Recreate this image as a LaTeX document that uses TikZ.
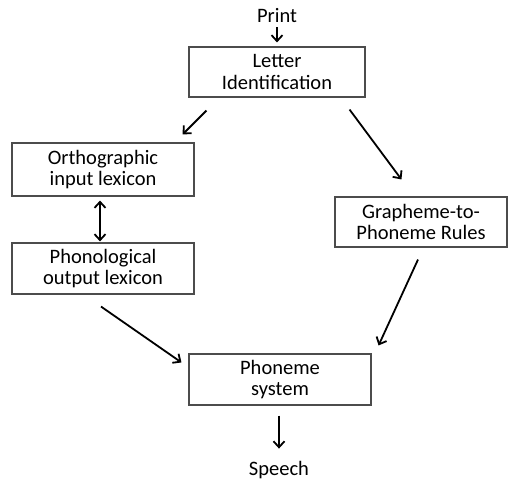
\documentclass[tikz,border=0pt]{standalone}
\usepackage{fontspec}
\setmainfont{Carlito}
\usetikzlibrary{arrows.meta,calc}
\tikzset{
  box/.style={draw=black!70, line width=1.1pt, fill=white, align=center,
    inner sep=0pt, font=\fontsize{20.5}{21.5}\selectfont},
  lbl/.style={inner sep=0pt, font=\fontsize{20.5}{21.5}\selectfont},
  tip/.style={Straight Barb[length=6pt,width=11pt,line width=1.8pt]},
  arr/.style={line width=1.8pt, -{Straight Barb[length=6pt,width=11pt,line width=1.8pt]}},
  darr/.style={line width=1.8pt, {Straight Barb[length=6pt,width=11pt,line width=1.8pt]}-{Straight Barb[length=6pt,width=11pt,line width=1.8pt]}}
}
\begin{document}
\begin{tikzpicture}[x=1pt,y=-1pt]
\useasboundingbox (0,0) rectangle (509,482);
\node[box, minimum width=176pt, minimum height=50pt] (letter) at (277,72) {Letter\\Identification};
\node[box, minimum width=182pt, minimum height=53pt] (ortho) at (103,169.5) {Orthographic\\input lexicon};
\node[box, minimum width=182pt, minimum height=51pt] (phono) at (103,268.5) {Phonological\\output lexicon};
\node[box, minimum width=172pt, minimum height=50pt] (graph) at (421,222) {Grapheme-to-\\Phoneme Rules};
\node[box, minimum width=182pt, minimum height=51pt] (phon) at (280,379.5) {Phoneme\\system};
\node[lbl, anchor=base] (print) at (277,22) {Print};
\node[lbl, anchor=base] (speech) at (279,475) {Speech};

\draw[arr] ($(print.south)+(0,5)$) -- ($(letter.north)+(0,-4)$);
\draw[arr] ($(letter.south west)+(18,13)$) -- ($(ortho.north east)+(-12,-8)$);
\draw[arr] ($(letter.south east)+(-16,12)$) -- ($(graph.north west)+(67,-17)$);
\draw[darr] ($(ortho.south)+(-3,4)$) -- ($(phono.north)+(-3,-1)$);
\draw[arr] ($(phono.south)+(-2,12)$) -- ($(phon.north west)+(-7,9)$);
\draw[arr] ($(graph.south)+(-3,12)$) -- ($(phon.north east)+(7,-8)$);
\draw[arr] ($(phon.south)+(-1,10)$) -- ($(speech.north)+(0,-12)$);
\end{tikzpicture}
\end{document}
